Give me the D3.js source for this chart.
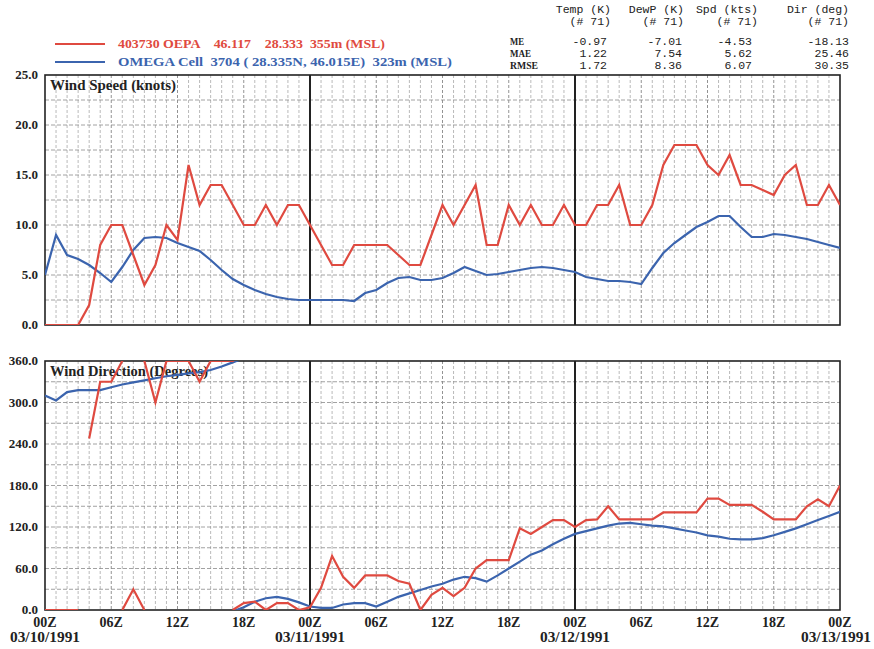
<!DOCTYPE html>
<html>
<head>
<meta charset="utf-8">
<script src="https://cdn.jsdelivr.net/npm/d3@7"></script>
<style>
  body { margin: 0; background: #fff; }
  svg { display: block; }
  .lbl { font-family: "Liberation Serif", serif; font-weight: bold; font-size: 13px; fill: #222; }
  .mono { font-family: "Liberation Mono", "DejaVu Sans Mono", monospace; font-size: 11.5px; fill: #222; }
</style>
</head>
<body>
<script>
// hourly values from 03/10/1991 00Z to 03/13/1991 00Z (index = hour)
const obsSpeed = [0,0,0,0,2,8,10,10,7,4,6,10,8.5,16,12,14,14,12,10,10,12,10,12,12,
  10,8,6,6,8,8,8,8,7,6,6,9,12,10,12,14,8,8,12,10,12,10,10,12,
  10,10,12,12,14,10,10,12,16,18,18,18,16,15,17,14,14,13.5,13,15,16,12,12,14,12];
const modelSpeed = [5,9,7,6.6,6,5.2,4.3,5.8,7.5,8.7,8.8,8.7,8.2,7.8,7.4,6.5,5.5,4.6,4,3.5,3.1,2.8,2.6,2.5,
  2.5,2.5,2.5,2.5,2.4,3.2,3.5,4.2,4.7,4.8,4.5,4.5,4.7,5.2,5.8,5.4,5,5.1,5.3,5.5,5.7,5.8,5.7,5.5,
  5.3,4.8,4.6,4.4,4.4,4.3,4.1,5.7,7.2,8.2,9,9.8,10.3,10.9,10.9,9.8,8.8,8.8,9.1,9,8.8,8.6,8.3,8,7.7];
const obsDir = [0,0,0,0,248,330,330,360,30,360,300,360,360,360,330,360,360,360,10,12,0,10,10,0,
  4,32,78,48,32,50,50,50,42,38,0,22,32,20,32,60,72,72,72,118,110,120,130,130,
  120,130,131,150,131,131,131,131,141,141,141,141,161,161,152,152,152,142,131,131,131,150,160,150,180];
const modelDir = [310,303,315,318,318,318,322,326,329,332,335,338,340,342,344,347,352,358,4,12,17,19,16,11,
  5,3,3,8,10,10,5,12,19,24,29,34,38,44,48,46,41,50,60,70,80,86,95,103,
  110,114,118,122,125,126,124,122,121,118,115,112,108,106,103,102,102,104,108,113,118,124,130,136,142];

const hourTicks = [0,6,12,18,24,30,36,42,48,54,60,66,72];
const hourLabels = ["00Z","06Z","12Z","18Z","00Z","06Z","12Z","18Z","00Z","06Z","12Z","18Z","00Z"];
const dateTicks = [0,24,48,72];
const dateLabels = ["03/10/1991","03/11/1991","03/12/1991","03/13/1991"];
const speedTicks = [0,5,10,15,20,25];
const dirTicks = [0,60,120,180,240,300,360];

const statCols = ["Temp (K)","DewP (K)","Spd (kts)","Dir (deg)"];
const statRows = ["ME","MAE","RMSE"];
const statME = ["-0.97","-7.01","-4.53","-18.13"];
const statMAE = ["1.22","7.54","5.62","25.46"];
const statRMSE = ["1.72","8.36","6.07","30.35"];
const statCount = ["(# 71)","(# 71)","(# 71)","(# 71)"];

const obsLabel = "403730 OEPA    46.117    28.333  355m (MSL)";
const modelLabel = "OMEGA Cell  3704 ( 28.335N, 46.015E)  323m (MSL)";

const red = "#df4a40", blue = "#3b64ae";
const width = 874, height = 649;

const svg = d3.select("body").append("svg")
    .attr("width", width)
    .attr("height", height);

const x = d3.scaleLinear().domain([0, 72]).range([45, 840]);
const ySpd = d3.scaleLinear().domain([0, 25]).range([325, 75]);
const yDir = d3.scaleLinear().domain([0, 360]).range([610, 361]);

// clip paths for the two panels
const defs = svg.append("defs");
[["clipSpd", ySpd], ["clipDir", yDir]].forEach(([id, y]) => {
    defs.append("clipPath").attr("id", id).append("rect")
        .attr("x", x(0)).attr("y", y.range()[1])
        .attr("width", x(72) - x(0)).attr("height", y.range()[0] - y.range()[1]);
});

function drawPanel(y, minorStep, ticks, title, titleLen) {
    const g = svg.append("g");
    // hourly vertical grid
    g.selectAll(".vg").data(d3.range(1, 72)).enter().append("line")
        .attr("x1", d => x(d)).attr("x2", d => x(d))
        .attr("y1", y.range()[1]).attr("y2", y.range()[0])
        .style("stroke", d => d % 6 === 0 ? "#777" : "#a8a8a8")
        .style("stroke-width", 0.8)
        .style("stroke-dasharray", "3,2");
    // horizontal grid
    const dom = y.domain();
    g.selectAll(".hg").data(d3.range(dom[0] + minorStep, dom[1], minorStep)).enter().append("line")
        .attr("x1", x(0)).attr("x2", x(72))
        .attr("y1", d => y(d)).attr("y2", d => y(d))
        .style("stroke", "#8a8a8a")
        .style("stroke-width", 0.8)
        .style("stroke-dasharray", "4,2");
    // day boundaries
    g.selectAll(".day").data([24, 48]).enter().append("line")
        .attr("x1", d => x(d)).attr("x2", d => x(d))
        .attr("y1", y.range()[1]).attr("y2", y.range()[0])
        .style("stroke", "#222").style("stroke-width", 2);
    // border
    g.append("rect")
        .attr("x", x(0)).attr("y", y.range()[1])
        .attr("width", x(72) - x(0)).attr("height", y.range()[0] - y.range()[1])
        .style("fill", "none").style("stroke", "#222").style("stroke-width", 1.6);
    // y labels
    g.selectAll(".yl").data(ticks).enter().append("text")
        .attr("class", "lbl")
        .attr("x", 38).attr("y", d => y(d) + 4)
        .attr("text-anchor", "end")
        .text(d => d.toFixed(1));
    g.append("text").attr("class", "lbl")
        .attr("x", 50).attr("y", y.range()[1] + 15)
        .attr("textLength", titleLen).attr("lengthAdjust", "spacingAndGlyphs")
        .style("font-size", "14px")
        .text(title);
    return g;
}

drawPanel(ySpd, 2.5, speedTicks, "Wind Speed (knots)", 126);
drawPanel(yDir, 30, dirTicks, "Wind Direction (Degrees)", 158);

// speed lines
const lineSpd = d3.line().x((d, i) => x(i)).y(d => ySpd(d));
const spdG = svg.append("g").attr("clip-path", "url(#clipSpd)");
spdG.append("path").attr("d", lineSpd(modelSpeed))
    .style("fill", "none").style("stroke", blue).style("stroke-width", 2.2);
spdG.append("path").attr("d", lineSpd(obsSpeed))
    .style("fill", "none").style("stroke", red).style("stroke-width", 2.2);

// direction lines: split at calm changes, wrap through 0/360
function dirRuns(vals, calm) {
    const runs = [];
    let cur = [[0, vals[0]]];
    for (let i = 1; i < vals.length; i++) {
        const a = vals[i - 1], b = vals[i];
        if (calm[i - 1] !== calm[i]) { runs.push(cur); cur = [[i, b]]; continue; }
        const d = b - a;
        if (Math.abs(d) > 180) {
            const s = d > 0 ? -360 : 360;
            cur.push([i, b + s]);
            runs.push(cur);
            cur = [[i - 1, a - s], [i, b]];
        } else cur.push([i, b]);
    }
    runs.push(cur);
    return runs;
}
const lineDir = d3.line().x(d => x(d[0])).y(d => yDir(d[1]));
const dirG = svg.append("g").attr("clip-path", "url(#clipDir)");
dirRuns(modelDir, modelDir.map(() => false)).forEach(r => {
    dirG.append("path").attr("d", lineDir(r))
        .style("fill", "none").style("stroke", blue).style("stroke-width", 2.2);
});
dirRuns(obsDir, obsSpeed.map(s => s === 0)).forEach(r => {
    dirG.append("path").attr("d", lineDir(r))
        .style("fill", "none").style("stroke", red).style("stroke-width", 2.2);
});

// x labels
svg.selectAll(".xl").data(hourTicks).enter().append("text")
    .attr("class", "lbl")
    .attr("x", d => x(d)).attr("y", 627)
    .attr("text-anchor", "middle")
    .style("font-size", "14px")
    .text((d, i) => hourLabels[i]);
svg.selectAll(".dl").data(dateTicks).enter().append("text")
    .attr("class", "lbl")
    .attr("x", d => Math.min(Math.max(x(d), 43), 836) - 35).attr("y", 642)
    .attr("textLength", 70).attr("lengthAdjust", "spacingAndGlyphs")
    .style("font-size", "14px")
    .text((d, i) => dateLabels[i]);

// legend
const legend = [[obsLabel, red, 44, 267], [modelLabel, blue, 62, 334]];
legend.forEach(([txt, col, ly, len]) => {
    svg.append("line").attr("x1", 55).attr("x2", 105).attr("y1", ly).attr("y2", ly)
        .style("stroke", col).style("stroke-width", 2);
    svg.append("text").attr("class", "lbl")
        .attr("x", 118).attr("y", ly + 4)
        .attr("textLength", len).attr("lengthAdjust", "spacingAndGlyphs")
        .style("white-space", "pre")
        .style("font-size", "12px")
        .style("fill", col)
        .text(txt);
});

// statistics table
const colRight = [611, 684, 758, 849];
const valRight = [607, 682, 752, 849];
statCols.forEach((c, i) => {
    svg.append("text").attr("class", "mono")
        .attr("x", colRight[i]).attr("y", 13).attr("text-anchor", "end").text(c);
    svg.append("text").attr("class", "mono")
        .attr("x", colRight[i]).attr("y", 25).attr("text-anchor", "end").text(statCount[i]);
});
[statME, statMAE, statRMSE].forEach((row, r) => {
    const ry = 45 + r * 12;
    svg.append("text").attr("class", "lbl")
        .attr("x", 510).attr("y", ry)
        .attr("textLength", statRows[r].length * 7).attr("lengthAdjust", "spacingAndGlyphs")
        .style("font-size", "10px")
        .text(statRows[r]);
    row.forEach((v, i) => {
        svg.append("text").attr("class", "mono")
            .attr("x", valRight[i]).attr("y", ry).attr("text-anchor", "end").text(v);
    });
});
</script>
</body>
</html>
